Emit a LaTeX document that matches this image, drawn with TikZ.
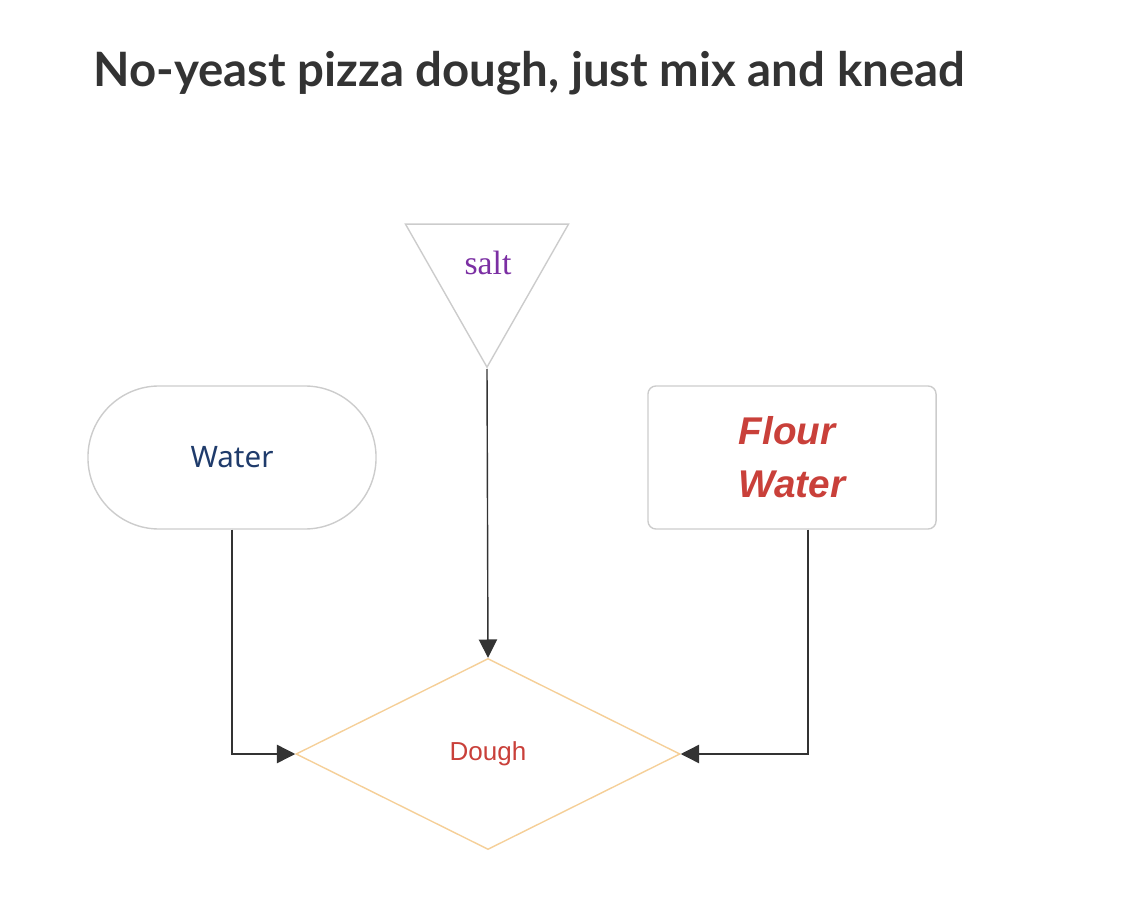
\documentclass[tikz,border=0pt]{standalone}
\usepackage{fontspec}
\usetikzlibrary{shapes.geometric,arrows.meta}
\newfontfamily\titlefont{Lato}
\newfontfamily\notosans{Noto Sans}
\newfontfamily\arialfont{Liberation Sans}
\newfontfamily\serifont{Liberation Serif}
\definecolor{boxgray}{HTML}{CCCCCC}
\definecolor{diamondline}{HTML}{F5CF98}
\definecolor{darkline}{HTML}{333333}
\definecolor{saltpurple}{HTML}{7B2FA3}
\definecolor{waterblue}{HTML}{1F3B6B}
\definecolor{doughred}{HTML}{C9403A}
\begin{document}
\begin{tikzpicture}[x=0.025cm,y=-0.025cm,
    box/.style={draw=boxgray,line width=1pt,inner sep=0pt},
    conn/.style={draw=darkline,line width=1pt,-{Triangle[length=13pt,width=13pt]}}]
      \useasboundingbox (0,0) rectangle (1130,898);
      \node[anchor=base west,inner sep=0pt,text=darkline,
        font=\titlefont\bfseries\fontsize{33.7}{40}\selectfont] (title) at (93,87)
        {No-yeast pizza dough, just mix and knead};
      \node[box,isosceles triangle,shape border rotate=270,isosceles triangle stretches,
        minimum width=4.075cm,minimum height=3.575cm,anchor=apex] (salt) at (487,369) {};
      \node[text=saltpurple,font=\serifont\fontsize{24}{28}\selectfont] (salttext) at (488,263) {salt};
      \node[box,rectangle,rounded corners=1.78cm,minimum width=7.2cm,minimum height=3.575cm,
        text=waterblue,font=\notosans\fontsize{21}{25}\selectfont] (water) at (232,457.5) {Water};
      \node[box,rectangle,rounded corners=0.2cm,minimum width=7.2cm,minimum height=3.575cm,
        align=left,text=doughred,font=\arialfont\bfseries\itshape\fontsize{27.5}{37.5}\selectfont]
        (flour) at (792,457.5) {Flour\\Water};
      \node[diamond,draw=diamondline,line width=1pt,inner sep=0pt,
        minimum width=9.6cm,minimum height=4.775cm,text=doughred,
        font=\arialfont\fontsize{18.5}{22}\selectfont] (dough) at (488,754) {\raisebox{-2pt}{Dough}};
      \begin{scope}[conn]
        \draw (salt.apex) -- (dough.north);
        \draw (water.south) |- (dough.west);
        \draw ([xshift=0.4cm]flour.south) |- (dough.east);
      \end{scope}
    \end{tikzpicture}
\end{document}
